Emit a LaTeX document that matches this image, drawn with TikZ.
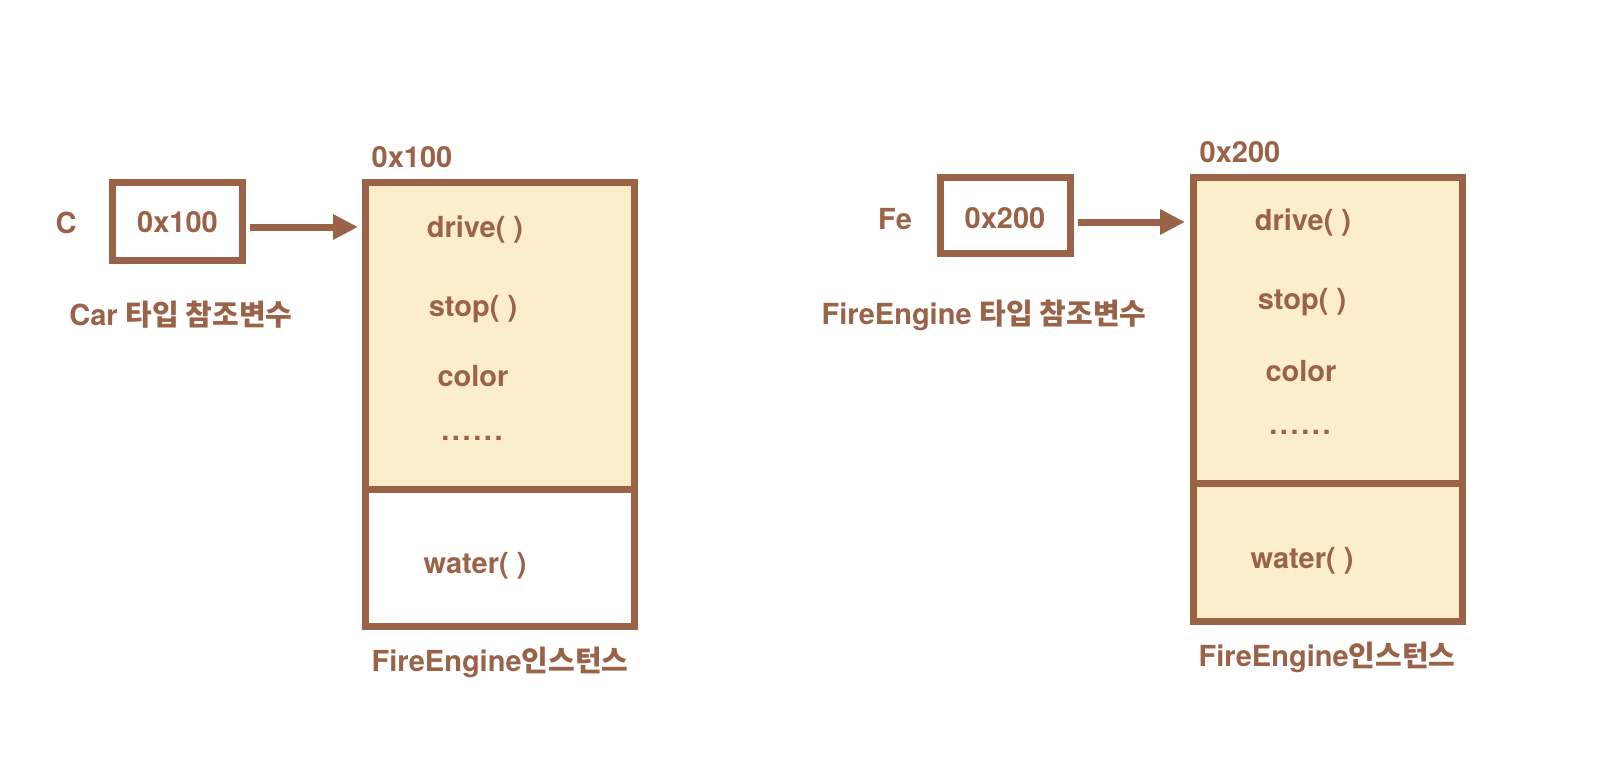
\documentclass[tikz,border=0pt]{standalone}
\usepackage{fontspec}
\setmainfont{TeX Gyre Heros}
\newfontfamily\kr{Noto Sans CJK KR}
\usetikzlibrary{arrows.meta}
\definecolor{brn}{RGB}{154,99,72}
\definecolor{cream}{RGB}{252,237,203}
\newcommand{\mydots}{.\kern2.6pt.\kern2.6pt.\kern2.6pt.\kern2.6pt.\kern2.6pt.}
\begin{document}
\begin{tikzpicture}[x=1pt,y=-1pt,
  txt/.style={text=brn,font=\fontsize{29}{32}\selectfont\bfseries,inner sep=0pt},
  frame/.style={draw=brn,line width=7pt},
  ptr/.style={draw=brn,line width=7pt,-{Triangle[length=25pt,width=24pt]}}]
\useasboundingbox[fill=white] (0,0) rectangle (1616,780);
% ---------- left ----------
\node[txt] (c) at (66,223) {C};
\draw[frame] (112.5,182.5) rectangle (242.5,260.5);
\node[txt] (cval) at (177.5,222) {0x100};
\coordinate (cbox) at (242.5,227);
\node[txt] (clab) at (181,315) {Car {\kr\bfseries 타입 참조변수}};
\draw[frame,fill=cream] (365.5,182.5) rectangle (634.5,489.5);
\draw[frame,fill=white] (365.5,489.5) rectangle (634.5,626.5);
\coordinate (ltop) at (365.5,227);
\node[txt] (laddr) at (412,157) {0x100};
\node[txt] (ld) at (475,230) {drive( )};
\node[txt] (ls) at (473,309) {stop( )};
\node[txt] (lc) at (473,376) {color};
\node[txt] (ldots) at (472,438) {\mydots};
\node[txt] (lw) at (475,566) {water( )};
\node[txt] (linst) at (500,662) {FireEngine{\kr\bfseries 인스턴스}};
\draw[ptr] ([xshift=7.5pt]cbox) -- ([xshift=-7.5pt]ltop);
% ---------- right ----------
\node[txt] (fe) at (895,219) {Fe};
\draw[frame] (940.5,177.5) rectangle (1070.5,253.5);
\node[txt] (feval) at (1005,218) {0x200};
\coordinate (fbox) at (1070.5,222);
\node[txt] (flab) at (984,315) {FireEngine {\kr\bfseries 타입 참조변수}};
\draw[frame,fill=cream] (1193.5,177.5) rectangle (1462.5,483);
\draw[frame,fill=cream] (1193.5,483) rectangle (1462.5,621.5);
\coordinate (rtop) at (1193.5,222);
\node[txt] (raddr) at (1240,152) {0x200};
\node[txt] (rd) at (1303,223) {drive( )};
\node[txt] (rs) at (1302,302) {stop( )};
\node[txt] (rc) at (1301,371) {color};
\node[txt] (rdots) at (1300,432) {\mydots};
\node[txt] (rw) at (1302,561) {water( )};
\node[txt] (rinst) at (1327,657) {FireEngine{\kr\bfseries 인스턴스}};
\draw[ptr] ([xshift=7.5pt]fbox) -- ([xshift=-8.5pt]rtop);
\end{tikzpicture}
\end{document}
